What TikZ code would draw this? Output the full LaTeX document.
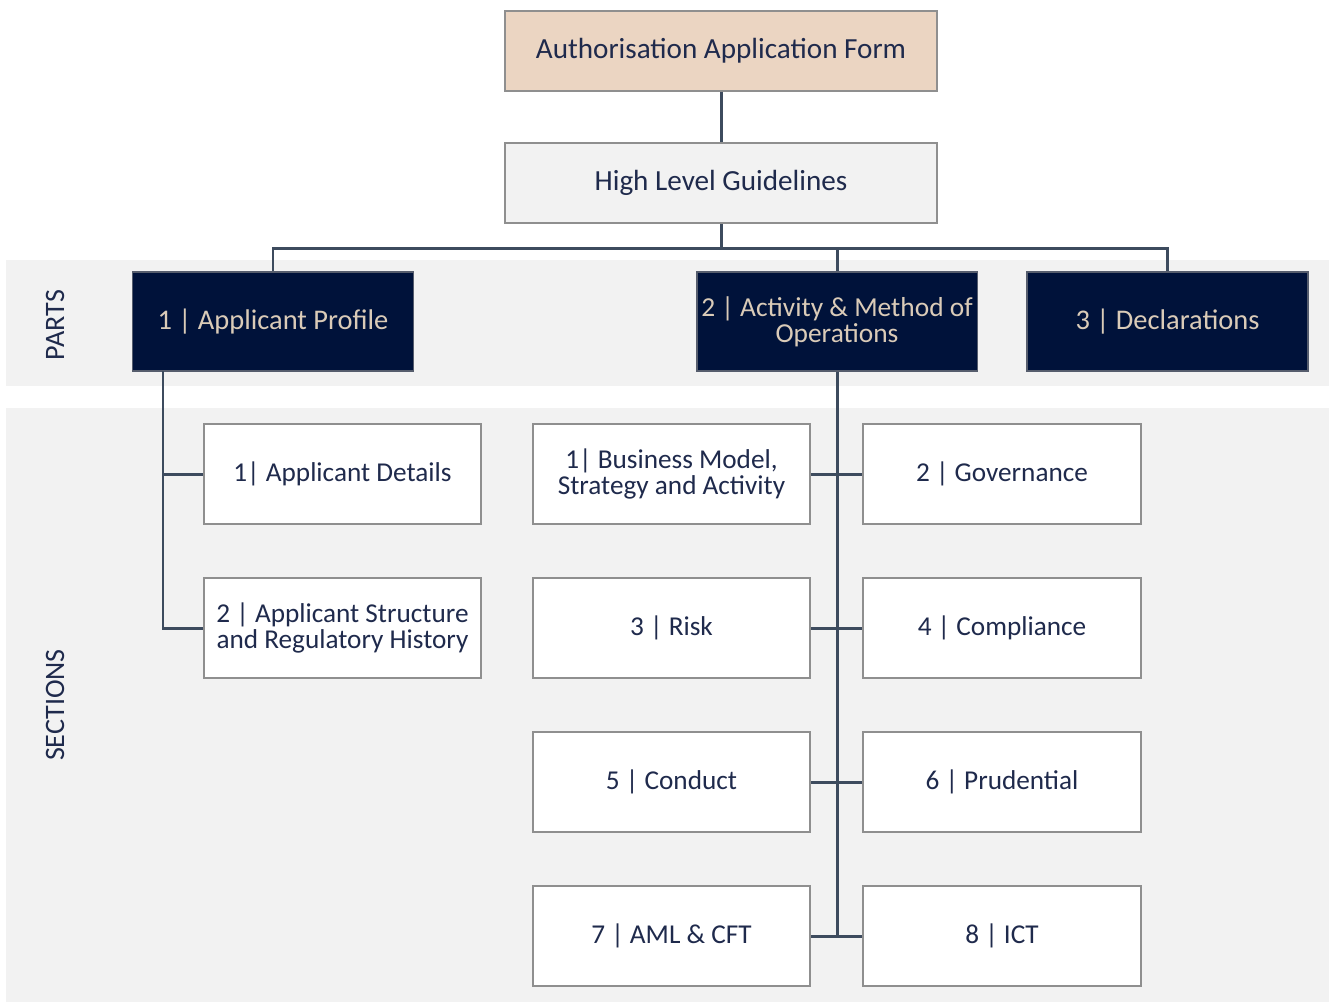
\documentclass[tikz,border=0pt]{standalone}
\usepackage{fontspec}
\setmainfont{Carlito}
\usepackage{xcolor}
\usepackage{tikz}
\definecolor{peach}{HTML}{EBD5C2}
\definecolor{bandgray}{HTML}{F2F2F2}
\definecolor{navy}{HTML}{00123A}
\definecolor{beige}{HTML}{DACBB8}
\definecolor{inkblue}{HTML}{1F2A4C}
\definecolor{linkgray}{HTML}{3D4B5E}
\definecolor{framegray}{HTML}{8F8F8F}

\begin{document}
\begin{tikzpicture}[x=0.02cm,y=-0.02cm,
    box/.style={draw=framegray,line width=1.1pt,inner sep=0pt,align=center,
        font=\fontsize{15.5}{14.5}\selectfont,text=inkblue},
    topbox/.style={box,fill=peach,minimum width=8.64cm,minimum height=1.6cm,
        font=\fontsize{16.6}{18}\selectfont},
    guidebox/.style={topbox,fill=bandgray},
    partbox/.style={box,draw=framegray!60!navy,fill=navy,text=beige,
        minimum width=5.62cm,minimum height=1.98cm,font=\fontsize{16.2}{15}\selectfont},
    secbox/.style={box,fill=white,minimum width=5.55cm,minimum height=2cm},
    band/.style={fill=bandgray,draw=none},
    bandlabel/.style={rotate=90,text=inkblue,font=\fontsize{16}{17}\selectfont},
    link/.style={draw=linkgray,line width=1.7pt}]
\useasboundingbox (0,0) rectangle (1329,1002);

% Background bands
\fill[band] (6,260) rectangle (1329,386);
\fill[band] (6,408) rectangle (1329,1002);
\node[bandlabel] (partslbl) at (55,325) {PARTS};
\node[bandlabel] (seclbl) at (55,705) {SECTIONS};

% Top of the tree
\node[topbox] (form) at (721,51) {Authorisation Application Form};
\node[guidebox] (guide) at (721,183) {High Level Guidelines};
\coordinate (bus) at (721,248);

% Parts
\node[partbox] (part1) at (273,321.5) {1 | Applicant Profile};
\node[partbox,font=\fontsize{15.6}{15}\selectfont] (part2) at (837,321.5)
    {2 | Activity \& Method of\\Operations};
\node[partbox] (part3) at (1167.5,321.5) {3 | Declarations};

% Sections of part 1
\node[secbox] (sec11) at (342.5,474) {1| Applicant Details};
\node[secbox] (sec12) at (342.5,628) {2 | Applicant Structure\\and Regulatory History};

% Sections of part 2
\node[secbox] (sec21) at (671.5,474) {1| Business Model,\\Strategy and Activity};
\node[secbox] (sec22) at (1002,474) {2 | Governance};
\node[secbox] (sec23) at (671.5,628) {3 | Risk};
\node[secbox] (sec24) at (1002,628) {4 | Compliance};
\node[secbox] (sec25) at (671.5,782) {5 | Conduct};
\node[secbox] (sec26) at (1002,782) {6 | Prudential};
\node[secbox] (sec27) at (671.5,936) {7 | AML \& CFT};
\node[secbox] (sec28) at (1002,936) {8 | ICT};

% Connectors
\draw[link] (form) -- (guide);
\draw[link] (guide) -- (bus);
\draw[link] (part1.north) |- (bus) -| (part3.north);
\draw[link] (bus) -| (part2.north);

\coordinate (trunk1) at (163,371);
\draw[link] (trunk1) |- (sec11.west);
\draw[link] (trunk1) |- (sec12.west);

\draw[link] (part2.south) -- (part2.south |- sec28.west);
\foreach \l/\r in {sec21/sec22,sec23/sec24,sec25/sec26,sec27/sec28} {
    \draw[link] (\l.east) -- (\r.west);
}
\end{tikzpicture}
\end{document}
